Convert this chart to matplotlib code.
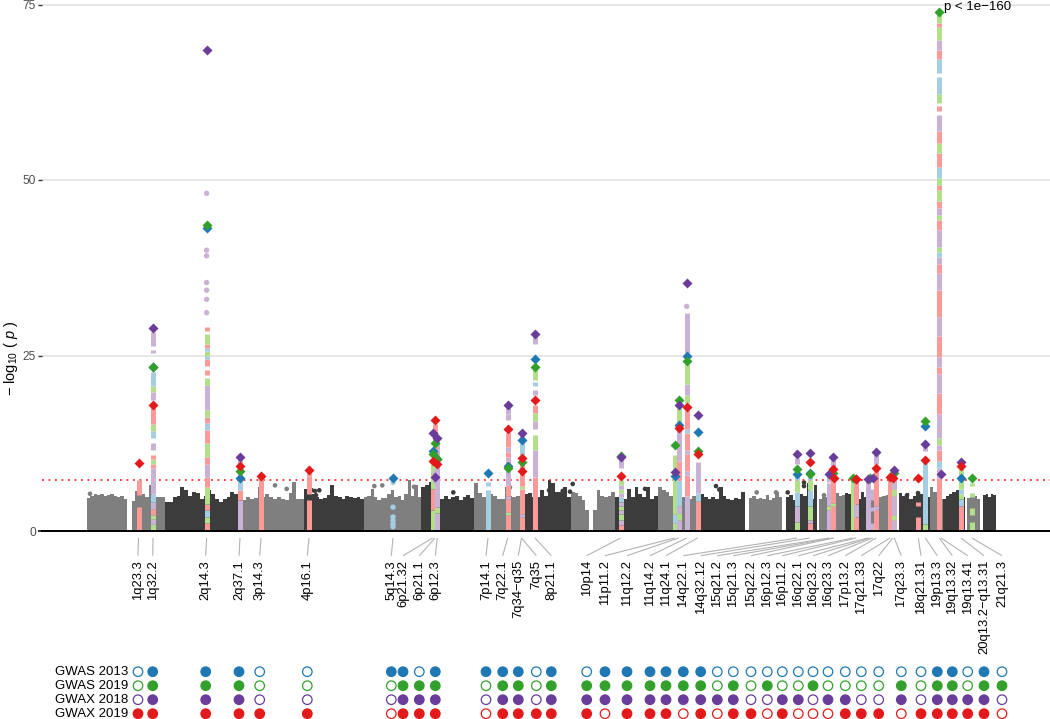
"""Manhattan plot of the GWAS / GWAX loci with a per-study hit table below it."""

import matplotlib

matplotlib.use("Agg")

import matplotlib.pyplot as plt
import numpy as np

plt.rcParams["font.family"] = ["Liberation Sans", "DejaVu Sans"]
plt.rcParams["mathtext.fontset"] = "custom"
plt.rcParams["mathtext.rm"] = "Liberation Sans"
plt.rcParams["mathtext.it"] = "Liberation Sans:italic"
plt.rcParams["mathtext.default"] = "regular"

nan = float("nan")

# ---- study colours
study_names = ["GWAS 2013", "GWAS 2019", "GWAX 2018", "GWAX 2019"]
study_colors = ["#1f78b4", "#33a02c", "#6a3d9a", "#e31a1c"]
pale_colors = {"b": "#a6cee3", "g": "#b2df8a", "p": "#cab2d6", "r": "#fb9a99"}
grey_tone = "#7f7f7f"
dark_tone = "#3c3c3c"

# ---- loci: name, column on the genome axis, slot of the rotated label
locus_names = [
    "1q23.3", "1q32.2", "2q14.3", "2q37.1", "3p14.3", "4p16.1", "5q14.3", "6p21.32",
    "6p21.1", "6p12.3", "7p14.1", "7q22.1", "7q34\u2212q35", "7q35", "8p21.1", "10p14",
    "11p11.2", "11q12.2", "11q14.2", "11q24.1", "14q22.1", "14q32.12", "15q21.2", "15q21.3",
    "15q22.2", "16p12.3", "16p11.2", "16q22.1", "16q23.2", "16q23.3", "17p13.2", "17q21.33",
    "17q22", "17q23.3", "18q21.31", "19p13.3", "19q13.32", "19q13.41", "20q13.2\u2212q13.31", "21q21.3",
]
locus_pos = [
    138.5, 153, 206.6, 240, 261, 309, 393, 432.7,
    435, 437.3, 488, 507.7, 521.5, 521.5, 535, 620.5,
    674.5, 678.5, 686.7, 697.5, 797, 809.7, 829, 832.7,
    834, 852.7, 856, 868, 870.3, 872.7, 876.3, 890,
    892.7, 894.3, 918.3, 925.3, 939.3, 941, 961, 972,
]
label_pos = [
    138, 152.7, 205.7, 239, 259.7, 307.3, 391.3, 403,
    419.3, 435.3, 486, 502.7, 518.3, 536.3, 551.3, 586.7,
    605, 627, 650, 666, 683.3, 700.7, 717.3, 733.3,
    751, 767.3, 782.3, 798.3, 813, 828, 845.3, 861.3,
    878.7, 901.3, 921, 937.3, 952.3, 967.7, 984, 1002,
]

# ---- lead SNP -log10(p) per locus and study, nan where no diamond can be seen
gwas_2013 = [
    nan, 23.3, 43.2, 7.6, nan, nan, 7.5, 11.4,
    nan, 10.2, 8.3, 9.2, 12.9, nan, 24.5, nan,
    7.9, 15.1, 25.0, 14.1, 8.1, 8.2, nan, nan,
    nan, nan, nan, nan, nan, nan, nan, nan,
    nan, nan, nan, 15.0, nan, nan, 7.6, nan,
]
gwas_2019 = [
    nan, 23.4, 43.6, 8.6, nan, nan, nan, 10.9,
    12.6, 10.3, nan, 9.0, 9.8, nan, 23.3, 10.7,
    12.2, 18.7, 24.2, 11.4, 8.9, 8.1, nan, 8.2,
    nan, 7.6, nan, nan, 7.5, nan, nan, nan,
    nan, 8.2, nan, 15.6, 73.9, nan, nan, 7.6,
]
gwax_2018 = [
    nan, 28.9, 68.5, 10.5, nan, nan, nan, 14.0,
    7.7, 13.2, nan, 18.0, 13.9, nan, 28.0, 10.5,
    8.4, 18.0, 35.3, 16.5, 10.9, 11.1, 8.1, 10.5,
    nan, nan, 7.4, 7.4, nan, 7.5, 11.2, nan,
    nan, 8.7, nan, 12.4, nan, 8.1, 9.8, nan,
]
gwax_2019 = [
    9.7, 18.0, nan, 9.2, 7.9, 8.7, nan, 10.0,
    15.8, 9.5, nan, 14.6, 10.4, 8.6, 18.6, 7.9,
    nan, 14.7, 17.7, 10.9, nan, 9.8, nan, 8.9,
    7.5, nan, 7.4, nan, nan, nan, 9.0, 7.7,
    7.5, nan, 7.5, 10.1, nan, nan, 9.3, nan,
]

# ---- hit table: one digit per study for every locus, 1 = filled circle
locus_hits = [
    "0001", "1111", "1111", "1111", "0001", "0001", "1000", "1111",
    "0111", "1111", "1000", "1111", "1111", "0001", "1111", "0111",
    "1110", "1111", "1111", "1111", "1110", "1111", "0010", "0111",
    "0001", "0100", "0011", "0010", "0100", "0010", "0011", "0001",
    "0001", "0110", "0001", "1111", "1111", "0011", "1111", "0100",
]

# ---- background skyline: start, end, tone and the top of the cloud along each block
block_start = [87, 132, 165, 242, 304, 364, 421, 474, 524, 571, 593, 615, 658, 700, 749, 786, 819, 845, 867, 899, 930, 943, 967, 983]
block_end = [127, 165, 242, 304, 364, 421, 474, 524, 571, 589, 615, 658, 700, 745, 782, 817, 845, 867, 897, 933, 943, 965, 980, 996]
block_tone = "ggdgdgdgdggdgdgdgdgdgdgd"
block_tops = [
    [4.7, 5.0, 5.2, 5.1, 5.2, 5.0, 5.1, 5.2, 5.0, 4.9, 5.0, 4.6],
    [4.3, 5.7, 5.8, 5.2, 4.9, 6.5, 4.9, 4.8, 4.9, 4.8],
    [4.2, 4.2, 4.8, 5.0, 6.2, 5.8, 5.0, 5.6, 5.4, 4.6, 5.0, 5.9, 5.2, 4.5, 4.2, 4.6, 4.8, 5.6, 5.3, 4.6],
    [4.4, 4.9, 4.6, 4.7, 6.2, 4.8, 5.3, 4.9, 4.6, 4.9, 4.6, 4.4, 5.4, 7.0, 4.6, 4.5],
    [6.0, 5.8, 5.2, 4.8, 4.6, 4.7, 5.1, 6.5, 5.0, 4.8, 4.6, 5.0, 4.9, 4.7, 4.8, 4.6],
    [4.9, 5.0, 6.0, 4.8, 4.4, 4.7, 4.7, 5.3, 5.8, 4.8, 5.0, 4.4, 5.2, 7.2, 5.0, 6.5, 4.9],
    [6.2, 6.5, 7.0, 7.0, 4.6, 4.5, 5.0, 4.6, 4.8, 5.0, 4.4, 4.9, 5.1, 4.7],
    [6.8, 5.4, 4.9, 4.8, 5.2, 5.0, 4.6, 4.5, 6.2, 5.0, 4.8, 5.0, 4.9],
    [5.2, 5.4, 4.9, 4.8, 5.9, 5.0, 7.2, 6.8, 5.6, 5.5, 6.3, 4.8],
    [5.6, 5.4, 5.0, 4.4, 3.0],
    [3.0, 5.8, 5.0, 4.9, 5.0, 5.6],
    [4.8, 4.2, 4.6, 6.0, 4.8, 6.3, 5.2, 4.9, 6.2, 4.6, 5.0],
    [6.3, 5.9, 5.5, 5.0, 4.8, 4.7, 4.8, 4.6, 4.5, 5.0, 4.8],
    [5.3, 4.9, 4.5, 4.9, 4.6, 6.2, 5.0, 4.6, 4.4, 4.7, 4.6, 5.6],
    [4.7, 5.0, 4.6, 4.7, 4.5, 5.1, 4.4, 4.7, 5.6, 4.9],
    [4.9, 5.1, 4.4, 4.8, 5.2, 5.0, 6.8, 4.6, 6.6],
    [4.6, 4.9, 4.8, 5.0, 5.2, 5.4, 5.0, 5.1],
    [5.4, 5.2, 4.9, 4.6, 4.5, 5.6, 4.8],
    [6.2, 5.0, 4.7, 4.9, 5.0, 5.1, 4.9, 5.2],
    [5.4, 5.0, 5.4, 4.6, 5.0, 5.2, 5.3, 5.0, 4.9, 5.0],
    [6.3, 5.6, 4.9, 4.6],
    [4.6, 5.0, 5.2, 5.6, 5.8, 5.0, 4.8],
    [4.7, 5.1, 5.0, 4.6],
    [5.1, 5.3, 4.8, 5.3, 5.1],
]

# ---- loose background points above the skyline
loose_pos = [90, 275, 286.7, 311.7, 315, 319.3, 316, 374.3, 382.3, 414, 453.3, 510, 549, 562.7, 572.7, 570, 645, 716, 719.3, 756.7, 776, 787.7, 804, 804, 824, 907, 918]
loose_val = [5.3, 6.5, 6.0, 5.8, 5.7, 5.8, 5.1, 6.4, 6.5, 6.3, 5.5, 6.2, 5.8, 5.7, 6.7, 5.6, 6.0, 6.4, 5.9, 5.5, 5.5, 5.5, 6.9, 6.4, 5.1, 5.1, 5.4]
loose_tone = "gggddddgggdgdddddddggdddgdd"

# ---- pale SNP columns: x, band edges from the bottom up, one letter per band (. = gap)
column_pos = [
    138.5, 153, 206.6, 240, 261, 309, 432.5, 437, 435, 488,
    507.7, 521.5, 535, 620.5, 674.5, 678.5, 686.7, 697.5, 797, 809.7,
    829, 832.7, 852.7, 856, 868, 872.7, 876.3, 890, 892.7, 894.3,
    918.3, 925.3, 939.3, 961, 972,
]
column_edges = [
    [0, 3.4, 5.1, 7.2],
    [0, 1, 1.7, 2.3, 3.2, 4.2, 5.3, 9, 9.6, 10.3, 10.8, 11.6, 12.6, 13.2, 14.2, 15.3, 18, 18.7, 19.8, 20.6, 22.7, 25.3, 25.8, 26.3, 28.4],
    [0.1, 1.1, 2, 3, 3.9, 6.3, 7.7, 9.6, 10.6, 12.5, 14.4, 15.4, 16.3, 17.3, 20.8, 21.8, 22.2, 22.9, 23.5, 24.5, 25, 25.6, 26.1, 26.6, 28, 28.5, 29.1],
    [0, 4.4, 5.8, 7.2, 10.2],
    [0, 5.6, 7.6],
    [0, 4.4, 5.2, 7.8, 8.7],
    [0, 3, 6, 9.5],
    [0, 2.5, 3.4, 11.5, 13],
    [6.8, 8.5, 10, 15.2],
    [0, 5.8, 6.4, 7],
    [0, 2.3, 2.7, 4.5, 5, 6.5, 9.1, 10, 10.6, 11.3, 12, 14, 15.8, 16.6, 17.6],
    [0, 2, 2.4, 6, 6.4, 8.2, 8.7, 9.6, 10.8, 12.5, 13, 14],
    [0, 7.7, 11.5, 13.7, 14.6, 15.6, 16.8, 18, 19.4, 20.1, 20.6, 21.2, 21.5, 23, 26.6, 27.6],
    [0, 0.8, 1.6, 2.4, 3, 3.6, 4.2, 4.8, 5.4, 6, 6.6, 7.3, 9, 10.2],
    [0, 1.2, 2.4, 10.8],
    [0, 1.5, 2.5, 3.5, 7.2, 10, 14.5, 17.5],
    [0, 5, 8, 8.6, 11, 11.6, 14, 14.6, 17.2, 18.2, 19.4, 21, 23.8, 25.4, 31],
    [0, 4.3, 5.4, 9.8],
    [0, 1.3, 3.5, 5.5, 7.2, 8, 9.5, 10.4],
    [0, 1.1, 1.6, 3.5, 5.9, 7.3, 8.2],
    [0, 3, 3.6, 6.8, 7, 8],
    [0, 3.5, 4, 7.2, 9, 10.2],
    [0, 7.3],
    [0, 2, 3.8, 7.2],
    [0, 7.2],
    [0, 1.1, 2.8, 3.4, 4.4, 6, 7.2],
    [0, 3, 3.6, 8.8, 9.5, 11],
    [0, 7.2],
    [0, 7.0],
    [0, 1.5, 2.3, 5, 6, 8],
    [0, 2, 3.6, 4.2],
    [0, 1, 9.9, 11.4, 12.3],
    [0, 7.5, 9, 10, 11.5, 12.2, 13.3, 16.7, 19.6, 22.4, 23.4, 24.8, 27.8, 30.5, 34.3, 36.7, 38, 39, 39.8, 40.5, 42.9, 44.3, 45, 46, 47, 48.6, 49.3, 50.3, 51.8, 53.8, 55.2, 57, 59.2, 59.9, 60.5, 61, 62.2, 64.7, 65.2, 67.3, 68.5, 69.9, 71.8, 72.3, 73.6],
    [0, 3.5, 4.5, 5.2, 6, 7.5, 9.5],
    [0, 1.3, 2.3, 3.3, 4.8, 5.4, 6.4, 6.9],
]
column_bands = [
    "r.r",
    "gpgrpbprgr.p.bgr.pgb.p.p",
    "rgbrgrprgrbrgpg.r.rbgbrg.r",
    "prbp",
    "rr",
    "r.rr",
    "grg",
    "pgpp",
    "p.r",
    "b.b",
    "rgrprprprpr.pp",
    "rprgr.r.b.p",
    "rpg.pgr.p.b.g.p",
    "rpgpgpbpgpg.p",
    "gbg",
    "pgpbrpg",
    "prprprbr.gpg.p",
    "rbp",
    "gpbgb.p",
    "rpgbgb",
    "pgp.p",
    "rgr.p",
    "g",
    "rpr",
    "p",
    "p.p.p.",
    "rpr.p",
    "r",
    "r",
    "pgpgp",
    "r.r",
    "gb.p",
    "rpbrpgprprprprprpbgprgprgrgbrgrp.r.gb.brpgrg",
    "rbgbgg",
    "g.g.g.g",
]

# ---- single pale points that stand apart from the columns
lone_pos = [206.6, 206.6, 206.6, 206.6, 206.6, 206.6, 206.6, 393, 393, 393, 393, 393, 393, 686.7]
lone_val = [48.1, 40.0, 39.2, 35.4, 34.3, 33.0, 31.1, 6.9, 3.4, 2.0, 1.5, 1.0, 0.6, 32.0]
lone_band = "pppppppbbbbbbp"

genome_wide = 7.3
table_rows = [671.7, 685.7, 699.7, 713.7]

fig = plt.figure(figsize=(10.5, 7.19), dpi=100)
ax = fig.add_axes([42 / 1050, 188 / 719, 1008 / 1050, 531 / 719])
ax_low = fig.add_axes([0, 0, 1, 188 / 719])

ax.set_xlim(42, 1050)
ax.set_ylim(0, 531 / 7.02)
for side in ["top", "right", "left"]:
    ax.spines[side].set_visible(False)
ax.spines["bottom"].set_linewidth(1.4)
ax.spines["bottom"].set_color("black")
ax.spines["bottom"].set_zorder(6)
ax.set_xticks([])
ax.set_yticks([0, 25, 50, 75])
ax.tick_params(axis="y", length=2.9, width=1.0, color="#333333", labelsize=8.6, labelcolor="#4d4d4d", pad=1.5)
ax.yaxis.grid(True, color="#e0e0e0", lw=1.1, zorder=0.5)
ax.set_axisbelow(True)
ax.yaxis.get_major_ticks()[0].tick1line.set_color("black")
ax.yaxis.get_major_ticks()[0].tick1line.set_markeredgewidth(1.4)
ax.yaxis.get_major_ticks()[0].gridline.set_visible(False)
fig.text(11 / 1050, 1 - 358 / 719, r"$-\ \log_{10}\,(\ \mathit{p}\ )$", rotation=90, ha="center", va="center", fontsize=10.5, color="black")

# background cloud
for start, end, tone, tops in zip(block_start, block_end, block_tone, block_tops):
    edges = np.linspace(start, end, len(tops) + 1)
    ax.stairs(tops, edges, baseline=-0.15, fill=True, color=grey_tone if tone == "g" else dark_tone, lw=0, zorder=2, clip_on=False)
ax.scatter(
    loose_pos,
    loose_val,
    s=11,
    c=[grey_tone if t == "g" else dark_tone for t in loose_tone],
    linewidths=0,
    zorder=2,
)

ax.axhline(genome_wide, color="#ff1a1a", lw=1.2, ls=(0, (1.1, 2.8)), zorder=2.5)

# pale columns of SNPs around each locus
for x, edges, bands in zip(column_pos, column_edges, column_bands):
    for low, high, band in zip(edges[:-1], edges[1:], bands):
        if band == ".":
            continue
        ax.vlines(x, low, high, colors=pale_colors[band], lw=3.6, zorder=3, clip_on=False)
ax.scatter(lone_pos, lone_val, s=15, c=[pale_colors[b] for b in lone_band], linewidths=0, zorder=3)

# lead SNP per study
for values, color in zip([gwas_2013, gwas_2019, gwax_2018, gwax_2019], study_colors):
    ax.scatter(locus_pos, values, marker="D", s=26, color=color, linewidths=0, zorder=4, clip_on=False)

ax.text(944.5, 74.7, "p < 1e\u2212160", fontsize=9.5, ha="left", va="center", color="black", zorder=5)

# connectors, rotated names and the hit table
ax_low.set_xlim(0, 1050)
ax_low.set_ylim(719, 531)
ax_low.axis("off")
ax_low.patch.set_alpha(0)
for x, slot, name in zip(locus_pos, label_pos, locus_names):
    ax_low.plot([x, slot], [538, 555.7], color="#b3b3b3", lw=0.8, solid_capstyle="butt")
    ax_low.text(slot, 560, name, rotation=90, ha="center", va="top", fontsize=9.4, color="black")

for row, (y, name, color) in enumerate(zip(table_rows, study_names, study_colors)):
    ax_low.text(128.5, y, name, ha="right", va="center", fontsize=9.5, color="black")
    filled = [hits[row] == "1" for hits in locus_hits]
    ax_low.scatter(
        label_pos,
        [y] * len(label_pos),
        s=47,
        facecolors=[color if f else "white" for f in filled],
        edgecolors=color,
        linewidths=0.9,
        clip_on=False,
    )

fig.savefig("out.png", dpi=100)
plt.close(fig)
